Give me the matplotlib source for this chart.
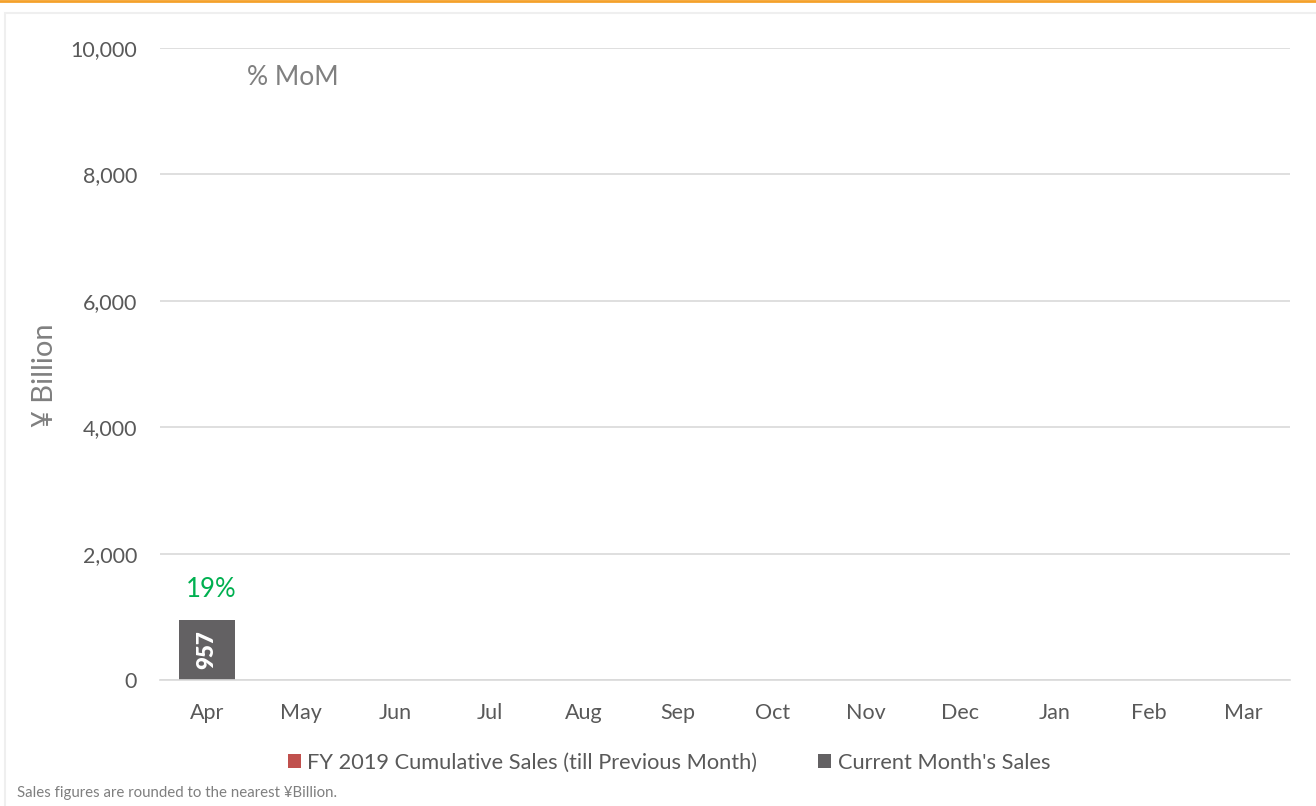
import matplotlib.pyplot as plt
import numpy as np
from matplotlib.ticker import FuncFormatter
from matplotlib.patches import Rectangle
from matplotlib.lines import Line2D

months = ['Apr', 'May', 'Jun', 'Jul', 'Aug', 'Sep', 'Oct', 'Nov', 'Dec', 'Jan', 'Feb', 'Mar']
cumulative = [0, 0, 0, 0, 0, 0, 0, 0, 0, 0, 0, 0]
current = [957, 0, 0, 0, 0, 0, 0, 0, 0, 0, 0, 0]
mom_labels = ['19%', '', '', '', '', '', '', '', '', '', '', '']

plt.rcParams['font.family'] = ['Lato', 'DejaVu Sans']
txt = '#595959'

fig = plt.figure(figsize=(13.16, 8.06), dpi=100)
ax = fig.add_axes([160/1316, 1 - 680/806, 1130/1316, 632/806])

x = np.arange(len(months))
ax.bar(x, cumulative, width=0.6, color='#C0504D', label='FY 2019 Cumulative Sales (till Previous Month)')
ax.bar(x, current, width=0.6, bottom=cumulative, color='#636163', label="Current Month's Sales")

for i in range(len(months)):
    if current[i] > 0:
        ax.text(x[i], cumulative[i] + current[i] / 2, str(current[i]), rotation=90,
                ha='center', va='center', color='white', fontsize=16, fontweight='heavy')
    if mom_labels[i]:
        ax.text(x[i] + 0.04, cumulative[i] + current[i] + 470, mom_labels[i], ha='center',
                va='center', color='#00B050', fontsize=18.5)

ax.set_xlim(-0.5, 11.5)
ax.set_ylim(0, 10000)
ax.set_yticks(range(0, 10001, 2000))
ax.yaxis.set_major_formatter(FuncFormatter(lambda v, p: f'{int(v):,}'))
ax.set_xticks(x)
ax.set_xticklabels(months)
ax.grid(axis='y', color='#D9D9D9', linewidth=1.2)
ax.set_axisbelow(True)
for s in ['top', 'right', 'left']:
    ax.spines[s].set_visible(False)
ax.spines['bottom'].set_color('#D9D9D9')
ax.spines['bottom'].set_linewidth(1.2)
ax.tick_params(length=0, labelsize=15.5, colors=txt, pad=16.5)
ax.tick_params(axis='y', pad=16.5)

ax.text(0.42, 9540, '% MoM', fontsize=19, color='#808080', ha='left', va='center')
ax.set_ylabel('¥ Billion', fontsize=21, color='#808080')
ax.yaxis.set_label_coords(-0.09, 0.482)

handles, labels = ax.get_legend_handles_labels()
fig.legend(handles, labels, loc='center', bbox_to_anchor=(669/1316, 1 - 763/806), ncol=2, frameon=False,
           fontsize=15.7, labelcolor=txt, handlelength=0.6, handleheight=0.6, handletextpad=0.3,
           columnspacing=2.8)

fig.text(17/1316, 1 - 793/806, 'Sales figures are rounded to the nearest ¥Billion.', fontsize=10.8,
         color='#7F7F7F', ha='left', va='center')

fig.patches.append(Rectangle((5/1316, -0.1), 1.2, 1 - 13/806 + 0.1, transform=fig.transFigure,
                             fill=False, edgecolor='#EFEFEF', linewidth=1.5))
fig.lines.append(Line2D([0, 1], [1 - 1/806, 1 - 1/806], transform=fig.transFigure, color='#F4A12B',
                        linewidth=2))

fig.savefig('out.png', dpi=100)
